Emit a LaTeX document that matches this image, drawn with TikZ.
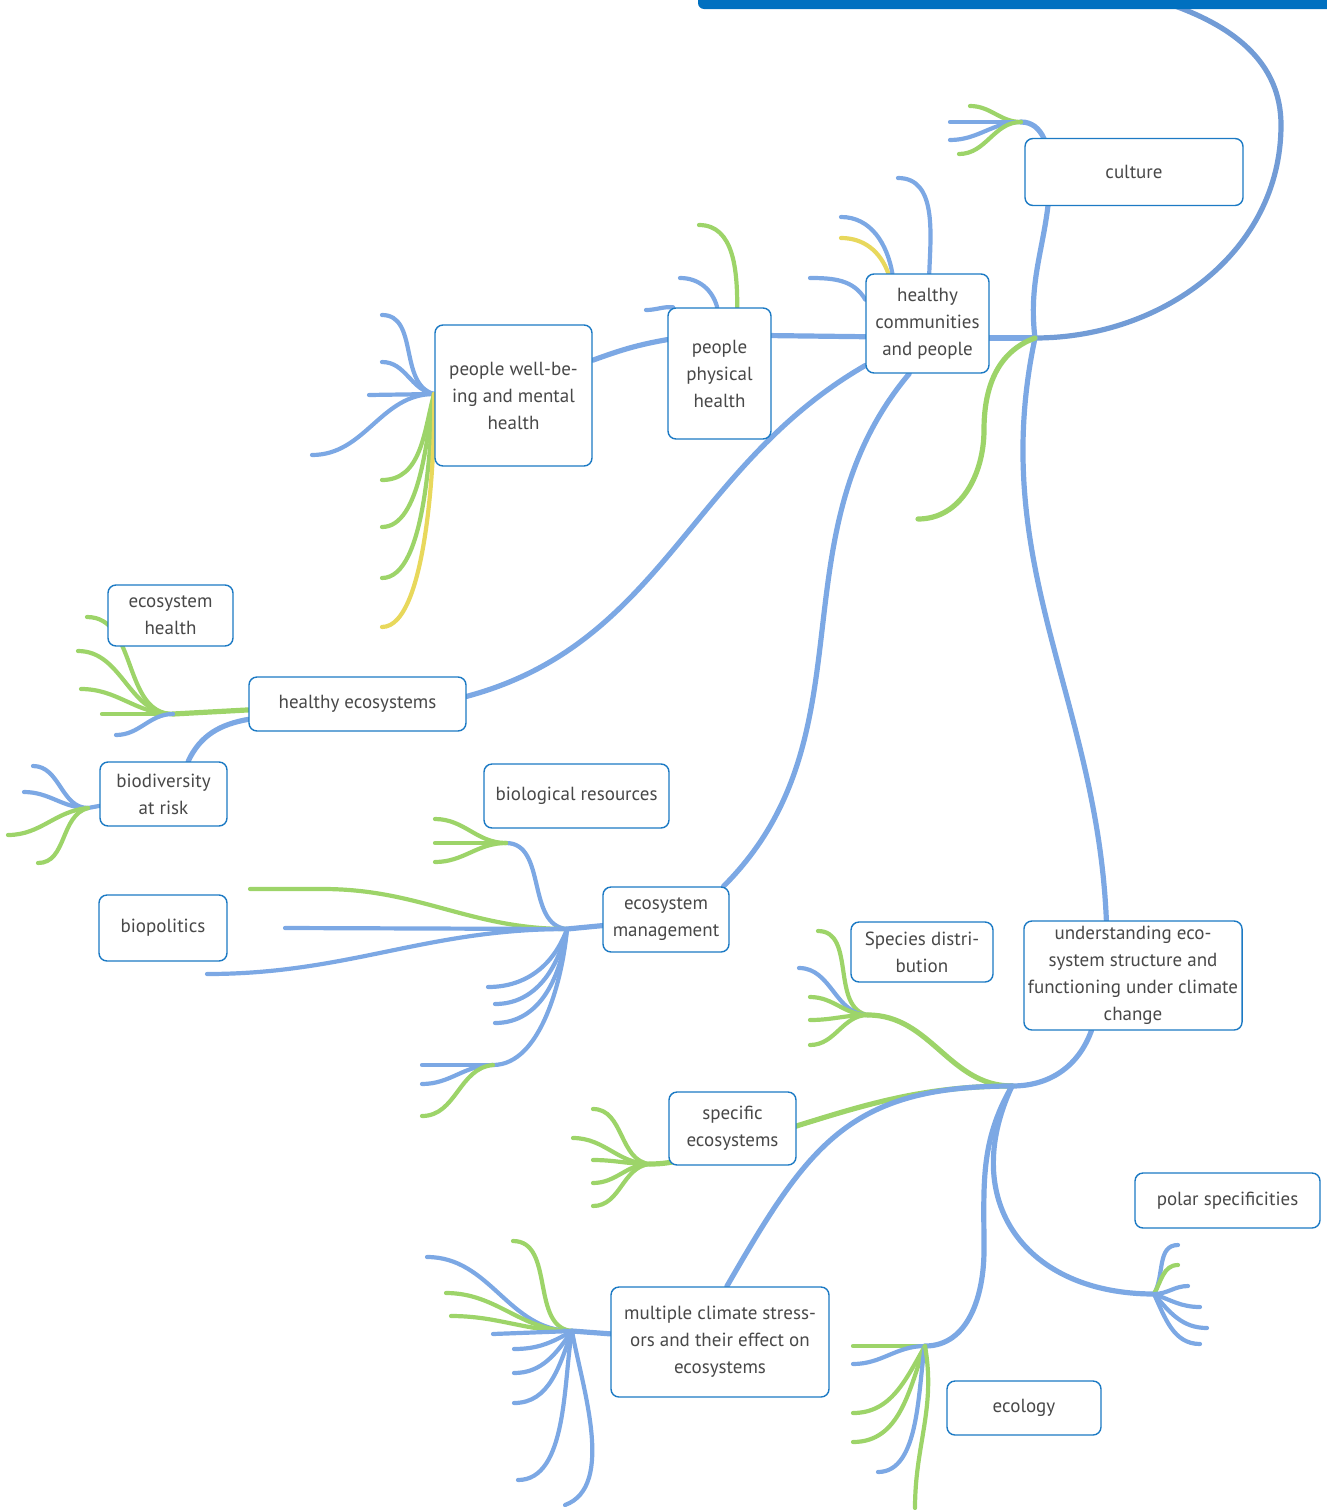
\documentclass[tikz,border=0pt]{standalone}
\usepackage{fontspec}
\setmainfont{PT Sans}
\usetikzlibrary{backgrounds}
\definecolor{lblue}{RGB}{124,168,228}
\definecolor{tblue}{RGB}{114,156,214}
\definecolor{lgreen}{RGB}{157,212,105}
\definecolor{lyellow}{RGB}{232,216,92}
\definecolor{boxblue}{RGB}{28,122,196}
\definecolor{barblue}{RGB}{0,112,192}
\definecolor{txtgray}{RGB}{72,72,72}
\begin{document}
\begin{tikzpicture}[x=0.5pt,y=0.5pt,
		topic/.style={draw=boxblue, fill=white, line width=0.7pt, rounded corners=4pt, align=center, inner sep=2pt, text=txtgray, font=\fontsize{9.5}{13.5}\selectfont},
		bl/.style={draw=lblue, line width=2.1pt, line cap=round},
		gr/.style={draw=lgreen, line width=2.1pt, line cap=round},
		ye/.style={draw=lyellow, line width=2.1pt, line cap=round},
		main/.style={line width=2.6pt}]
		\useasboundingbox (0,0) rectangle (1327,-1510);

		% Define topics
		\node[topic, minimum width=109pt, minimum height=33.5pt] (Culture) at (1134,-172) {culture};
		\node[topic, minimum width=61.5pt, minimum height=49.5pt] (Communities) at (927.5,-323.5) {healthy\\communities\\and people};
		\node[topic, minimum width=51.5pt, minimum height=65.5pt] (Physical) at (719.5,-373.5) {people\\physical\\health};
		\node[topic, minimum width=78.5pt, minimum height=70.5pt] (Wellbeing) at (513.5,-395.5) {people well-be-\\ing and mental\\health};
		\node[topic, minimum width=62.5pt, minimum height=30.5pt] (EcoHealth) at (170.5,-615.5) {ecosystem\\health};
		\node[topic, minimum width=108.5pt, minimum height=27pt] (HealthyEco) at (357.5,-704) {healthy ecosystems};
		\node[topic, minimum width=63.5pt, minimum height=32pt] (Biodiv) at (163.5,-794) {biodiversity\\at risk};
		\node[topic, minimum width=92.5pt, minimum height=32pt] (BioRes) at (576.5,-796) {biological resources};
		\node[topic, minimum width=64pt, minimum height=33pt] (Biopol) at (163,-928) {biopolitics};
		\node[topic, minimum width=63pt, minimum height=32.5pt] (EcoMgmt) at (666,-919.5) {ecosystem\\management};
		\node[topic, minimum width=71pt, minimum height=30pt] (Species) at (922,-952) {Species distri-\\bution};
		\node[topic, minimum width=109pt, minimum height=54.5pt] (Understanding) at (1133,-975.5) {understanding eco-\\system structure and\\functioning under climate\\change};
		\node[topic, minimum width=63.5pt, minimum height=36.5pt] (Specific) at (732.5,-1128.5) {specific\\ecosystems};
		\node[topic, minimum width=92.5pt, minimum height=27.5pt] (Polar) at (1227.5,-1200.5) {polar specificities};
		\node[topic, minimum width=109pt, minimum height=55pt] (Stressors) at (720,-1342) {multiple climate stress-\\ors and their effect on\\ecosystems};
		\node[topic, minimum width=77pt, minimum height=27pt] (Ecology) at (1024,-1408) {ecology};

		\fill[barblue, rounded corners=3pt] (698,12) rectangle (1340,-9);

		\begin{pgfonlayer}{background}
		% Define hubs and free ends
		\coordinate (BarEnd) at (1175,-6);
		\coordinate (Turn) at (1281,-125);
		\coordinate (HubA) at (1035,-338);
		\coordinate (CulMid) at (1050,-172);
		\coordinate (HubCul) at (1021,-122);
		\coordinate (CulL1) at (970,-106);
		\coordinate (CulL2) at (950,-122);
		\coordinate (CulL3) at (950,-140);
		\coordinate (CulL4) at (959,-154);
		\coordinate (CommG) at (984,-430);
		\coordinate (CommGEnd) at (918,-519);
		\coordinate (UndIn) at (1107,-950);
		\coordinate (CommL1) at (898,-178);
		\coordinate (CommL2) at (841,-217);
		\coordinate (CommL3) at (841,-238);
		\coordinate (CommL4) at (810,-278);
		\coordinate (PhysL1) at (699,-225);
		\coordinate (PhysL2) at (680,-278);
		\coordinate (PhysL3) at (646,-310);
		\coordinate (HubWell) at (434,-394);
		\coordinate (WellL1) at (382,-315);
		\coordinate (WellL2) at (382,-362);
		\coordinate (WellL3) at (369,-395);
		\coordinate (WellL4) at (312,-455);
		\coordinate (WellL5) at (382,-480);
		\coordinate (WellL6) at (382,-527);
		\coordinate (WellL7) at (382,-578);
		\coordinate (WellL8) at (382,-627);
		\coordinate (HubEco) at (173,-714);
		\coordinate (EcoL1) at (87,-617);
		\coordinate (EcoL2) at (78,-651);
		\coordinate (EcoL3) at (81,-689);
		\coordinate (EcoL4) at (102,-714);
		\coordinate (EcoL5) at (116,-735);
		\coordinate (HubBio) at (88,-808);
		\coordinate (BioL1) at (33,-766);
		\coordinate (BioL2) at (24,-792);
		\coordinate (BioL3) at (8,-835);
		\coordinate (BioL4) at (38,-863);
		\coordinate (HubMgmt) at (567,-929);
		\coordinate (HubRes) at (506,-843);
		\coordinate (ResL1) at (435,-819);
		\coordinate (ResL2) at (435,-843);
		\coordinate (ResL3) at (435,-862);
		\coordinate (MgmtG) at (323,-889);
		\coordinate (MgmtL1) at (250,-889);
		\coordinate (MgmtL2) at (285,-928);
		\coordinate (MgmtL3) at (207,-974);
		\coordinate (MgmtL4) at (488,-987);
		\coordinate (MgmtL5) at (495,-1004);
		\coordinate (MgmtL6) at (495,-1023);
		\coordinate (HubLow) at (493,-1065);
		\coordinate (LowL1) at (422,-1065);
		\coordinate (LowL2) at (422,-1084);
		\coordinate (LowL3) at (422,-1116);
		\coordinate (HubB) at (1012,-1086);
		\coordinate (HubSpe) at (868,-1015);
		\coordinate (SpeL1) at (818,-931);
		\coordinate (SpeL2) at (799,-968);
		\coordinate (SpeL3) at (810,-997);
		\coordinate (SpeL4) at (810,-1020);
		\coordinate (SpeL5) at (810,-1045);
		\coordinate (SpcMid) at (715,-1150);
		\coordinate (HubSpc) at (650,-1164);
		\coordinate (SpcL1) at (593,-1109);
		\coordinate (SpcL2) at (573,-1138);
		\coordinate (SpcL3) at (593,-1160);
		\coordinate (SpcL4) at (593,-1183);
		\coordinate (SpcL5) at (593,-1206);
		\coordinate (EcolW) at (984,-1250);
		\coordinate (HubEcol) at (925,-1346);
		\coordinate (EcolL1) at (853,-1346);
		\coordinate (EcolL2) at (853,-1364);
		\coordinate (EcolL3) at (853,-1413);
		\coordinate (EcolL4) at (853,-1442);
		\coordinate (EcolL5) at (878,-1472);
		\coordinate (EcolL6) at (915,-1508);
		\coordinate (HubPol) at (1154,-1294);
		\coordinate (PolL1) at (1178,-1245);
		\coordinate (PolL2) at (1178,-1265);
		\coordinate (PolL3) at (1188,-1286);
		\coordinate (PolL4) at (1200,-1307);
		\coordinate (PolL5) at (1207,-1328);
		\coordinate (PolL6) at (1200,-1344);
		\coordinate (HubStr) at (572,-1331);
		\coordinate (StrL1) at (513,-1241);
		\coordinate (StrL2) at (427,-1257);
		\coordinate (StrL3) at (446,-1293);
		\coordinate (StrL4) at (451,-1316);
		\coordinate (StrL5) at (493,-1334);
		\coordinate (StrL6) at (514,-1349);
		\coordinate (StrL7) at (514,-1373);
		\coordinate (StrL8) at (514,-1403);
		\coordinate (StrL9) at (518,-1480);
		\coordinate (StrL10) at (565,-1505);

		% trunk
		\draw[bl,main,draw=tblue] (BarEnd) to[out=-20,in=90] (Turn) to[out=-90,in=0] (HubA);
		\draw[bl,main] (HubA) -- (HubA -| Communities.east);
		\draw[bl,main] (HubA) to[out=97,in=-90] (CulMid) to[out=90,in=0] (HubCul);
		\draw[bl,main] (HubA) to[out=-102,in=90] (UndIn);
		\draw[gr,main] (HubA) to[out=200,in=90] (CommG) to[out=-90,in=0] (CommGEnd);

		\draw[gr] (HubCul) to[out=180,in=0] (CulL1);
		\draw[bl] (HubCul) -- (CulL2);
		\draw[bl] (HubCul) to[out=180,in=0] (CulL3);
		\draw[gr] (HubCul) to[out=180,in=0] (CulL4);

		% healthy communities
		\draw[bl,main] (Physical.36) -- (Communities.192);
		\draw[bl,main] (Communities.214) to[out=210,in=15] (HealthyEco.4);
		\draw[bl,main] (Communities.-110) to[out=-130,in=45] (EcoMgmt.30);
		\draw[bl] (Communities.88) to[out=88,in=0] (CommL1);
		\draw[bl] (Communities.125) to[out=100,in=0] (CommL2);
		\draw[ye] (Communities.128) to[out=110,in=0] (CommL3);
		\draw[bl] (Communities.159) to[out=120,in=0] (CommL4);

		\draw[gr] (Physical.75) to[out=90,in=0] (PhysL1);
		\draw[bl] (Physical.92) to[out=105,in=0] (PhysL2);
		\draw[bl] (Physical.125) to[out=175,in=0] (PhysL3);
		\draw[bl,main] (Physical.147) to[out=190,in=20] (Wellbeing.24);

		\draw[bl] (HubWell) to[out=165,in=0] (WellL1);
		\draw[bl] (HubWell) to[out=170,in=0] (WellL2);
		\draw[bl] (HubWell) -- (WellL3);
		\draw[bl] (HubWell) to[out=180,in=0] (WellL4);
		\draw[gr] (HubWell) to[out=-105,in=0] (WellL5);
		\draw[gr] (HubWell) to[out=-100,in=0,looseness=0.7] (WellL6);
		\draw[gr] (HubWell) to[out=-95,in=0,looseness=0.6] (WellL7);
		\draw[ye] (HubWell) to[out=-88,in=0,looseness=0.5] (WellL8);

		% healthy ecosystems
		\draw[gr,main] (HealthyEco) -- (HubEco);
		\draw[gr] (HubEco) to[out=180,in=0] (EcoL1);
		\draw[gr] (HubEco) to[out=180,in=0] (EcoL2);
		\draw[gr] (HubEco) to[out=180,in=0] (EcoL3);
		\draw[gr] (HubEco) -- (EcoL4);
		\draw[bl] (HubEco) to[out=180,in=0] (EcoL5);

		\draw[bl,main] (HealthyEco.188) to[out=190,in=65] (Biodiv.53);
		\draw[bl] (Biodiv) -- (HubBio);
		\draw[bl] (HubBio) to[out=180,in=0] (BioL1);
		\draw[bl] (HubBio) to[out=180,in=0] (BioL2);
		\draw[gr] (HubBio) to[out=185,in=0] (BioL3);
		\draw[gr] (HubBio) to[out=195,in=0] (BioL4);

		% ecosystem management
		\draw[bl,main] (EcoMgmt) -- (HubMgmt);
		\draw[bl] (HubMgmt) to[out=175,in=0] (HubRes);
		\draw[gr] (HubRes) to[out=180,in=0] (ResL1);
		\draw[gr] (HubRes) -- (ResL2);
		\draw[gr] (HubRes) to[out=180,in=0] (ResL3);
		\draw[gr] (HubMgmt) to[out=180,in=0] (MgmtG) -- (MgmtL1);
		\draw[bl] (HubMgmt) -- (MgmtL2);
		\draw[bl] (HubMgmt) to[out=180,in=0] (MgmtL3);
		\draw[bl] (HubMgmt) to[out=-110,in=0] (MgmtL4);
		\draw[bl] (HubMgmt) to[out=-103,in=0] (MgmtL5);
		\draw[bl] (HubMgmt) to[out=-97,in=0] (MgmtL6);
		\draw[bl] (HubMgmt) to[out=-95,in=0,looseness=0.8] (HubLow);
		\draw[bl] (HubLow) -- (LowL1);
		\draw[bl] (HubLow) to[out=180,in=0] (LowL2);
		\draw[gr] (HubLow) to[out=185,in=0] (LowL3);

		% understanding
		\draw[bl,main] (Understanding.-127) to[out=-110,in=0] (HubB);
		\draw[gr,main] (HubB) to[out=180,in=0] (HubSpe);
		\draw[gr] (HubSpe) to[out=170,in=0] (SpeL1);
		\draw[bl] (HubSpe) to[out=180,in=0] (SpeL2);
		\draw[gr] (HubSpe) to[out=180,in=0] (SpeL3);
		\draw[gr] (HubSpe) to[out=180,in=0] (SpeL4);
		\draw[gr] (HubSpe) to[out=180,in=0] (SpeL5);

		\draw[gr,main] (HubB) to[out=180,in=15] (SpcMid) to[out=195,in=0] (HubSpc);
		\draw[gr] (HubSpc) to[out=175,in=0] (SpcL1);
		\draw[gr] (HubSpc) to[out=180,in=0] (SpcL2);
		\draw[gr] (HubSpc) to[out=180,in=0] (SpcL3);
		\draw[gr] (HubSpc) to[out=180,in=0] (SpcL4);
		\draw[gr] (HubSpc) to[out=185,in=0] (SpcL5);

		\draw[bl,main] (HubB) to[out=180,in=60,looseness=1.2] (Stressors.83);
		\draw[bl,main] (Stressors) -- (HubStr);
		\draw[gr] (HubStr) to[out=175,in=0] (StrL1);
		\draw[bl] (HubStr) to[out=180,in=0] (StrL2);
		\draw[gr] (HubStr) to[out=180,in=0] (StrL3);
		\draw[gr] (HubStr) to[out=180,in=0] (StrL4);
		\draw[bl] (HubStr) -- (StrL5);
		\draw[bl] (HubStr) to[out=-150,in=0] (StrL6);
		\draw[bl] (HubStr) to[out=-125,in=0] (StrL7);
		\draw[bl] (HubStr) to[out=-110,in=0] (StrL8);
		\draw[bl] (HubStr) to[out=-100,in=0,looseness=0.8] (StrL9);
		\draw[bl] (HubStr) to[out=-80,in=20,looseness=0.8] (StrL10);

		\draw[bl,main] (HubB) to[out=-120,in=90] (EcolW) to[out=-90,in=0] (HubEcol);
		\draw[gr] (HubEcol) -- (EcolL1);
		\draw[bl] (HubEcol) to[out=180,in=0] (EcolL2);
		\draw[gr] (HubEcol) to[out=-120,in=0] (EcolL3);
		\draw[gr] (HubEcol) to[out=-110,in=0] (EcolL4);
		\draw[bl] (HubEcol) to[out=-100,in=0,looseness=0.8] (EcolL5);
		\draw[gr] (HubEcol) to[out=-80,in=90] (EcolL6);

		\draw[bl,main] (HubB) to[out=-115,in=180,looseness=1.3] (HubPol);
		\draw[bl] (HubPol) to[out=60,in=180] (PolL1);
		\draw[gr] (HubPol) to[out=60,in=180] (PolL2);
		\draw[bl] (HubPol) to[out=0,in=180] (PolL3);
		\draw[bl] (HubPol) to[out=-20,in=180] (PolL4);
		\draw[bl] (HubPol) to[out=-50,in=180] (PolL5);
		\draw[bl] (HubPol) to[out=-65,in=180] (PolL6);
		\end{pgfonlayer}
	\end{tikzpicture}
\end{document}
